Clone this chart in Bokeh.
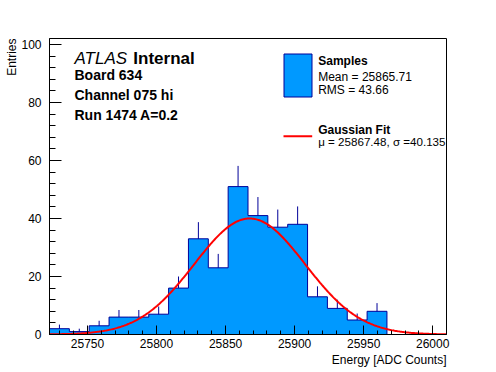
import numpy as np
from bokeh.plotting import figure
from bokeh.models import Label, Range1d, SingleIntervalTicker, Title
from bokeh.embed import file_html
from bokeh.resources import INLINE

# ---------------- data ----------------
bin_low = 25722.5
bin_width = 14.375
counts = [2, 1, 3, 6, 6, 7, 16, 33, 23, 51, 41, 37, 38, 13, 9, 5, 8, 0, 0, 0]
mean_val = 25865.71
rms_val = 43.66
fit_mu = 25867.48
fit_sigma = 40.135
fit_amp = 40.0
x_range = (25722.5, 26010.0)
y_range = (0.0, 102.07)
x_tick_interval = 50
y_tick_interval = 20

# ---------------- layout helpers (picture pixels -> data) ----------------
X0, X1 = x_range
Y0, Y1 = y_range
FRAME_L, FRAME_T, FRAME_W, FRAME_H = 49, 38, 397, 296
FIG_W, FIG_H = 496, 372


def dx(px):
    return X0 + (px - FRAME_L) * (X1 - X0) / FRAME_W


def dy(py):
    return Y1 - (py - FRAME_T) * (Y1 - Y0) / FRAME_H


FONT = "Liberation Sans"
FILL = "#0099ff"
EDGE = "#000099"

p = figure(width=FIG_W, height=FIG_H, x_range=Range1d(X0, X1), y_range=Range1d(Y0, Y1),
           output_backend="svg", toolbar_location=None,
           min_border_left=FRAME_L, min_border_right=FIG_W - FRAME_L - FRAME_W,
           min_border_top=FRAME_T, min_border_bottom=FIG_H - FRAME_T - FRAME_H)
p.background_fill_color = "white"
p.border_fill_color = "white"
p.outline_line_color = "black"
p.outline_line_width = 1
p.grid.visible = False

p.xaxis.ticker = SingleIntervalTicker(interval=x_tick_interval, num_minor_ticks=5)
p.yaxis.ticker = SingleIntervalTicker(interval=y_tick_interval, num_minor_ticks=5)
for ax in (p.xaxis[0], p.yaxis[0]):
    ax.major_label_text_font = FONT
    ax.major_label_text_font_size = "12px"
    ax.major_label_text_color = "black"
    ax.axis_line_color = "black"
    ax.major_tick_line_color = "black"
    ax.minor_tick_line_color = "black"
    ax.major_tick_out = 0
    ax.minor_tick_out = 0
p.xaxis.major_tick_in = 9
p.xaxis.minor_tick_in = 4
p.yaxis.major_tick_in = 12
p.yaxis.minor_tick_in = 6
p.xaxis.major_label_standoff = 4
p.yaxis.major_label_standoff = 8

# axis titles as side-panel titles
p.add_layout(Title(text="Energy [ADC Counts]", align="right", text_font=FONT,
                   text_font_size="12px", text_font_style="normal", standoff=0,
                   text_color="black"), "below")
p.add_layout(Title(text="Entries", align="right", text_font=FONT,
                   text_font_size="12px", text_font_style="normal", standoff=0,
                   text_color="black"), "left")

# ---------------- histogram ----------------
counts_a = np.array(counts, dtype=float)
edges = bin_low + bin_width * np.arange(len(counts) + 1)
centers = 0.5 * (edges[:-1] + edges[1:])

nz = counts_a > 0
p.segment(x0=centers[nz], y0=counts_a[nz] - np.sqrt(counts_a[nz]),
          x1=centers[nz], y1=counts_a[nz] + np.sqrt(counts_a[nz]),
          line_color=EDGE, line_width=1)
step_x = np.concatenate([[edges[0]], np.repeat(edges, 2)[1:-1], [edges[-1]]])
step_y = np.concatenate([[0], np.repeat(counts_a, 2), [0]])
p.patch(step_x, step_y, fill_color=FILL, line_color=None)
p.line(step_x, step_y, line_color=EDGE, line_width=1)

# ---------------- gaussian fit ----------------
fx = np.linspace(X0, X1, 400)
fy = fit_amp * np.exp(-0.5 * ((fx - fit_mu) / fit_sigma) ** 2)
p.line(fx, fy, line_color="#ff0000", line_width=2)


# ---------------- texts ----------------
def txt(s, px, py, size, style="normal", align="left"):
    py = py - 0.4 * size  # empirical baseline correction
    p.add_layout(Label(x=dx(px), y=dy(py), text=s, text_font=FONT,
                       text_font_size=f"{size}px", text_font_style=style,
                       text_align=align, text_baseline="alphabetic",
                       text_color="black"))


txt("ATLAS", 74, 65, 17, "italic")
txt("Internal", 132.8, 65, 17, "bold")
txt("Board 634", 74, 80, 14, "bold")
txt("Channel 075 hi", 74, 100, 14, "bold")
txt("Run 1474 A=0.2", 74, 120, 14, "bold")

# legend
p.quad(left=dx(283.5), right=dx(311.5), top=dy(53.5), bottom=dy(96.5),
       fill_color=FILL, line_color=EDGE, line_width=1)
txt("Samples", 317.7, 65.5, 12, "bold")
txt(f"Mean = {mean_val:.2f}", 317.7, 81, 12)
txt(f"RMS = {rms_val:.2f}", 317.7, 94.3, 12)
p.line([dx(283), dx(311.7)], [dy(135.7), dy(135.7)], line_color="#ff0000", line_width=2)
txt("Gaussian Fit", 317.7, 134, 12, "bold")
txt(f"\u03bc = {fit_mu:.2f}, \u03c3 ={fit_sigma:.3f}", 317.7, 145.5, 11.6)

open("out.html", "w").write(file_html(p, INLINE))
